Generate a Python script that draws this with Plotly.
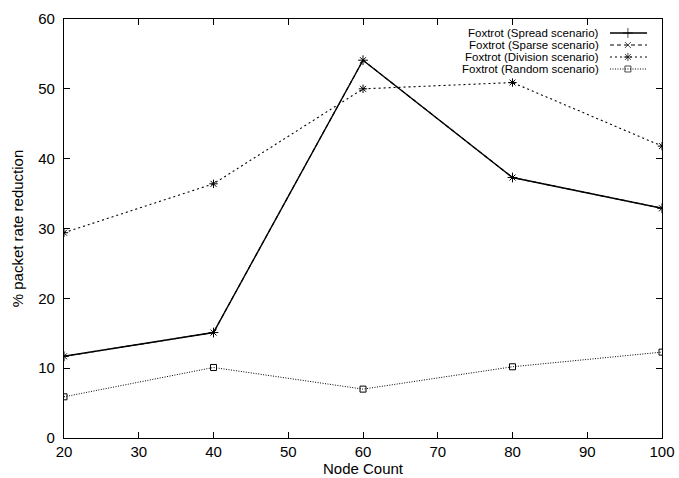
import plotly.graph_objects as go

node_count = [20, 40, 60, 80, 100]
spread = [11.7, 15.1, 54.1, 37.3, 32.9]
sparse = [11.7, 15.1, 54.1, 37.3, 32.9]
division = [29.4, 36.4, 50.0, 50.9, 41.8]
random_s = [5.9, 10.1, 7.0, 10.2, 12.3]

names = ["Foxtrot (Spread scenario)", "Foxtrot (Sparse scenario)",
         "Foxtrot (Division scenario)", "Foxtrot (Random scenario)"]
series = [spread, sparse, division, random_s]
dashes = ["solid", "4px,3px", "2px,3px", "1px,1.5px"]
widths = [1.4, 1.1, 1.1, 1.0]
symbols = ["cross-thin-open", "x-thin-open", "asterisk-open", "square-open"]
msizes = [7, 6, 7, 6]

FONT = "Liberation Sans, Arial, sans-serif"
fig = go.Figure()
for n, s, d, w, sym, ms in zip(names, series, dashes, widths, symbols, msizes):
    fig.add_trace(go.Scatter(
        x=node_count, y=s, mode="lines+markers", name=n, showlegend=False,
        line=dict(color="black", width=w, dash=d),
        marker=dict(symbol=sym, size=ms, color="black", line=dict(color="black", width=1)),
    ))

# custom gnuplot-style legend (text right, sample to the right)
rows_y = [0.9666, 0.9379, 0.9093, 0.8807]
for n, ry, d, w, sym, ms in zip(names, rows_y, dashes, widths, symbols, msizes):
    fig.add_trace(go.Scatter(
        x=[0.913, 0.943, 0.975], y=[ry, ry, ry], xaxis="x2", yaxis="y2",
        mode="lines+markers", showlegend=False, hoverinfo="skip",
        line=dict(color="black", width=w, dash=d),
        marker=dict(symbol=sym, size=[0, ms, 0], color="black", line=dict(color="black", width=1)),
    ))
    fig.add_annotation(x=0.8963, y=ry, xref="x2", yref="y2", text=n, showarrow=False,
                       xanchor="right", yanchor="middle", borderpad=0,
                       font=dict(family=FONT, size=11.5, color="black"))

axis_common = dict(showline=True, linecolor="black", linewidth=1.2, mirror="ticks",
                   ticks="inside", ticklen=6, tickcolor="black", tickwidth=1,
                   showgrid=False, zeroline=False, automargin=False,
                   tickfont=dict(family=FONT, size=15, color="black"))

fig.update_layout(
    width=679, height=478,
    margin=dict(l=64, r=17, t=19, b=40),
    paper_bgcolor="white", plot_bgcolor="white",
    xaxis=dict(range=[20, 100], tickmode="linear", tick0=20, dtick=10,
               title=dict(text="Node Count", font=dict(family=FONT, size=15, color="black"), standoff=2),
               **axis_common),
    yaxis=dict(range=[0, 60], tickmode="linear", tick0=0, dtick=10, ticklabelstandoff=5,
               title=dict(text="% packet rate reduction", font=dict(family=FONT, size=15, color="black"), standoff=10),
               **axis_common),
    xaxis2=dict(range=[0, 1], overlaying="x", visible=False, automargin=False),
    yaxis2=dict(range=[0, 1], overlaying="y", visible=False, automargin=False),
)

# remove the default page margin so the figure fills the window exactly
fig.write_html("out.html", config={"displayModeBar": False},
               post_script="document.body.style.margin='0';"
                           "document.documentElement.style.overflow='hidden';")
